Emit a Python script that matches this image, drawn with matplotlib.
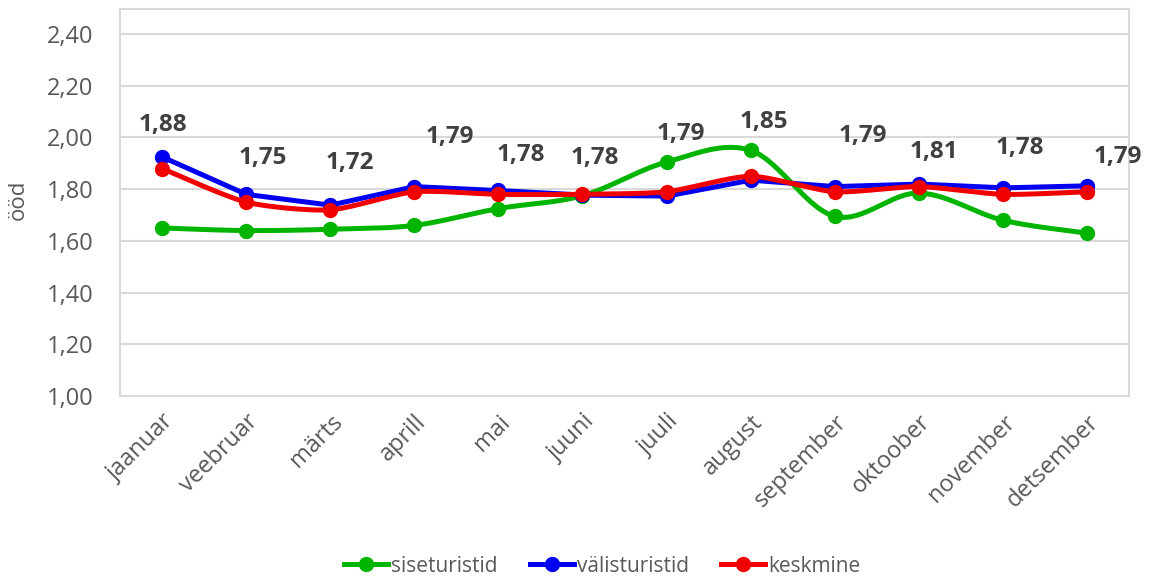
import numpy as np
import matplotlib
matplotlib.use("Agg")
import matplotlib.pyplot as plt
from matplotlib.lines import Line2D

months = ["jaanuar", "veebruar", "märts", "aprill", "mai", "juuni", "juuli",
          "august", "september", "oktoober", "november", "detsember"]
siseturistid = [1.65, 1.64, 1.645, 1.66, 1.725, 1.775, 1.905, 1.95, 1.695, 1.785, 1.68, 1.63]
valisturistid = [1.925, 1.78, 1.738, 1.81, 1.795, 1.777, 1.773, 1.835, 1.81, 1.82, 1.805, 1.813]
keskmine = [1.88, 1.75, 1.72, 1.79, 1.78, 1.78, 1.79, 1.85, 1.79, 1.81, 1.78, 1.79]
yticks = [1.0, 1.2, 1.4, 1.6, 1.8, 2.0, 2.2, 2.4]

# label offsets in pixels (layout only)
label_dx = [1, 17, 20, 36, 22, 12, 14, 13, 28, 15, 17, 31]
label_dy = [44, 44, 47, 55, 39, 36, 58, 54, 56, 35, 46, 35]

FONT = ["Open Sans", "DejaVu Sans"]
plt.rcParams["font.family"] = FONT


def smooth(x, y, n=30, tension=0.5):
    """Cardinal spline path through the points (rendering only)."""
    x = np.asarray(x, float)
    y = np.asarray(y, float)
    px = np.concatenate([[x[0]], x, [x[-1]]])
    py = np.concatenate([[y[0]], y, [y[-1]]])
    xs, ys = [], []
    for i in range(1, len(px) - 2):
        p0 = np.array([px[i - 1], py[i - 1]])
        p1 = np.array([px[i], py[i]])
        p2 = np.array([px[i + 1], py[i + 1]])
        p3 = np.array([px[i + 2], py[i + 2]])
        m1 = tension * (p2 - p0)
        m2 = tension * (p3 - p1)
        t = np.linspace(0, 1, n, endpoint=(i == len(px) - 3))
        h00 = 2 * t**3 - 3 * t**2 + 1
        h10 = t**3 - 2 * t**2 + t
        h01 = -2 * t**3 + 3 * t**2
        h11 = t**3 - t**2
        pts = (np.outer(h00, p1) + np.outer(h10, m1) + np.outer(h01, p2) + np.outer(h11, m2))
        xs.extend(pts[:, 0])
        ys.extend(pts[:, 1])
    return np.array(xs), np.array(ys)


fig = plt.figure(figsize=(11.49, 5.81), dpi=100)
ax = fig.add_axes([120 / 1149, 1 - 396 / 581, 1009 / 1149, 387 / 581])

x = np.arange(len(months))
series = [(siseturistid, "#00B400", "siseturistid", 0.5),
          (valisturistid, "#0000F0", "välisturistid", 0.0),
          (keskmine, "#F00000", "keskmine", 0.35)]
handles = []
for i, (vals, col, name, ten) in enumerate(series):
    sx, sy = smooth(x, vals, tension=ten)
    ax.plot(sx, sy, color=col, lw=3.6, solid_capstyle="round", zorder=3 + i)
    ax.plot(x, vals, linestyle="none", marker="o", ms=10, color=col, zorder=3 + i)
    handles.append(Line2D([0], [0], color=col, lw=3.6, marker="o", ms=10))

for i, v in enumerate(keskmine):
    ax.annotate(f"{v:.2f}".replace(".", ","), (x[i], v),
                xytext=(label_dx[i], label_dy[i]), textcoords="offset pixels",
                ha="center", va="center", fontsize=17.5, fontweight="bold",
                color="#404040", zorder=10)

ax.set_xlim(-0.5, len(months) - 0.5)
ax.set_ylim(1.0, 2.497)
ax.set_yticks(yticks)
ax.set_yticklabels([f"{t:.2f}".replace(".", ",") for t in yticks])
ax.set_xticks(x)
ax.set_xticklabels(months, rotation=45, ha="right", rotation_mode="anchor")
ax.tick_params(axis="both", length=0, labelsize=17, colors="#595959")
ax.tick_params(axis="y", pad=19)
ax.tick_params(axis="x", pad=10)
ax.grid(axis="y", color="#D9D9D9", lw=1.5)
ax.set_axisbelow(True)
for s in ax.spines.values():
    s.set_color("#D9D9D9")
    s.set_linewidth(1.5)
fig.text(18 / 1149, 1 - 200 / 581, "ööd", rotation=90, fontsize=16, color="#595959",
         ha="center", va="center")

fig.legend(handles, [s[2] for s in series], loc="center", bbox_to_anchor=(0.524, 1 - 566 / 581),
           ncol=3, frameon=False, fontsize=15, labelcolor="#595959",
           handlelength=2.1, handletextpad=0.15, columnspacing=1.55)

fig.savefig("out.png", dpi=100, facecolor="white")
